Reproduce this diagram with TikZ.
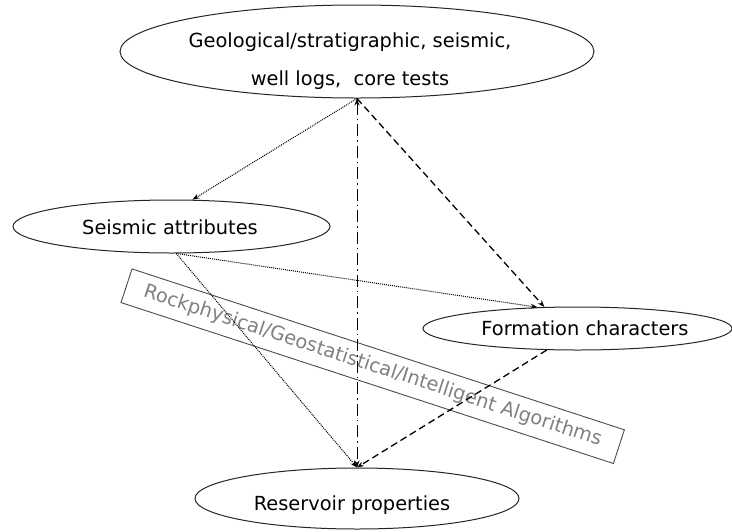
\documentclass[tikz,border=0pt]{standalone}
\usepackage{fontspec}
\setmainfont{DejaVu Sans}
\usetikzlibrary{shapes.geometric,arrows.meta}

\begin{document}
\begin{tikzpicture}[x=1pt,y=-1pt,
  oval/.style={ellipse, draw=black!85, line width=1pt, inner sep=0pt},
  lbl/.style={inner sep=0pt, align=center, font=\fontsize{19.4}{38.3}\selectfont, text=black},
  tip/.style={-{Stealth[length=7pt,width=5pt]}},
  dotline/.style={tip, line width=1pt, dash pattern=on 1pt off 1pt},
  dashline/.style={tip, line width=1.3pt, dash pattern=on 7pt off 4pt},
  dashdotline/.style={{Stealth[length=7pt,width=5pt]}-{Stealth[length=7pt,width=5pt]},
                      line width=1pt, dash pattern=on 12pt off 4pt on 1.5pt off 4pt},
  algobox/.style={draw=black!70, line width=0.9pt, inner sep=0pt,
                  minimum width=518pt, minimum height=35.4pt,
                  font=\fontsize{19.4}{23}\selectfont, text=black!50}
]
\useasboundingbox[fill=white] (0,0) rectangle (732,531);

% outlines of the four data boxes
\node[oval, minimum width=474pt, minimum height=93pt] (src) at (357,51.5) {};
\node[oval, minimum width=317pt, minimum height=53pt] (seis) at (171.5,226.5) {};
\node[oval, minimum width=309pt, minimum height=43pt] (form) at (577.5,328.5) {};
\node[oval, minimum width=324pt, minimum height=61pt] (res) at (357,498.5) {};

% their captions
\node[lbl] (srcTxt) at (350,60.8) {Geological/stratigraphic, seismic,\\well logs,\ \ core tests};
\node[lbl] (seisTxt) at (170,227.5) {Seismic attributes};
\node[lbl] (formTxt) at (585,328.5) {Formation characters};
\node[lbl] (resTxt) at (352,505) {Reservoir properties};

% the method band across the diagram
\node[algobox, rotate=-18.1] (algo) at (372.7,366.2)
  {Rockphysical/Geostatistical/Intelligent Algorithms};

% connectors
\draw[dotline] (src.south) -- (seis.52);
\draw[dashline] (src.south) -- (form.147);
\draw[dashdotline] (src.south) -- (res.north);
\draw[dotline] (seis.-80) -- (form.152);
\draw[dotline] (seis.-80) -- (res.north);
\draw[dashline] (form.215) -- (res.north);
\end{tikzpicture}
\end{document}
